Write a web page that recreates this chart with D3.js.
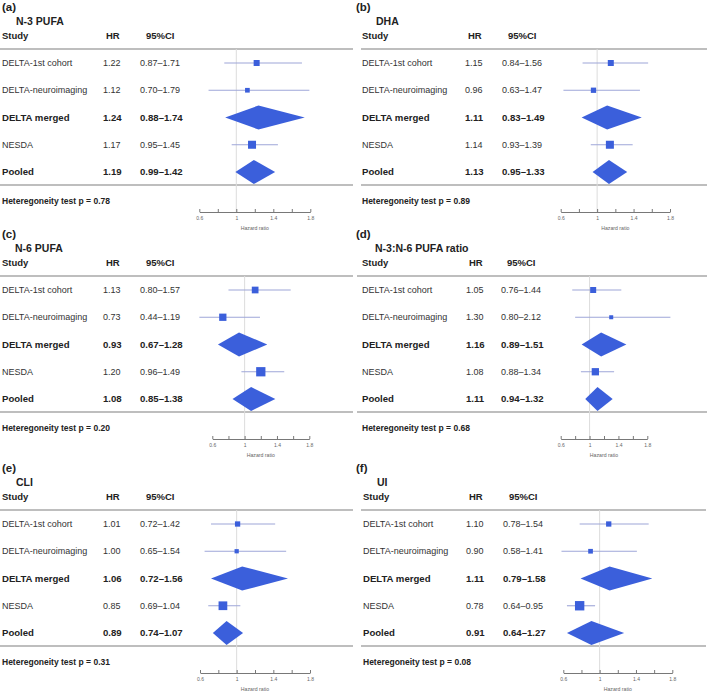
<!DOCTYPE html>
<html>
<head>
<meta charset="utf-8">
<script src="https://cdn.jsdelivr.net/npm/d3@7"></script>
<style>
  html, body { margin: 0; padding: 0; background: #fff; }
  svg { display: block; font-family: "Liberation Sans", Arial, sans-serif; }
</style>
</head>
<body>
<svg id="chart" width="709" height="691"></svg>
<script>
// ---------------- DATA ----------------
const panelIds = ["(a)", "(b)", "(c)", "(d)", "(e)", "(f)"];
const panelTitles = ["N-3 PUFA", "DHA", "N-6 PUFA", "N-3:N-6 PUFA ratio", "CLI", "UI"];
const studies = ["DELTA-1st cohort", "DELTA-neuroimaging", "DELTA merged", "NESDA", "Pooled"];
const summaryRow = [false, false, true, false, true];

const hrA = [1.22, 1.12, 1.24, 1.17, 1.19];
const loA = [0.87, 0.70, 0.88, 0.95, 0.99];
const hiA = [1.71, 1.79, 1.74, 1.45, 1.42];
const wA  = [36, 22, 0, 64, 0];

const hrB = [1.15, 0.96, 1.11, 1.14, 1.13];
const loB = [0.84, 0.63, 0.83, 0.93, 0.95];
const hiB = [1.56, 1.47, 1.49, 1.39, 1.33];
const wB  = [36, 28, 0, 64, 0];

const hrC = [1.13, 0.73, 0.93, 1.20, 1.08];
const loC = [0.80, 0.44, 0.67, 0.96, 0.85];
const hiC = [1.57, 1.19, 1.28, 1.49, 1.38];
const wC  = [45, 53, 0, 86, 0];

const hrD = [1.05, 1.30, 1.16, 1.08, 1.11];
const loD = [0.76, 0.80, 0.89, 0.88, 0.94];
const hiD = [1.44, 2.12, 1.51, 1.34, 1.32];
const wD  = [36, 16, 0, 53, 0];

const hrE = [1.01, 1.00, 1.06, 0.85, 0.89];
const loE = [0.72, 0.65, 0.72, 0.69, 0.74];
const hiE = [1.42, 1.54, 1.56, 1.04, 1.07];
const wE  = [28, 18, 0, 76, 0];

const hrF = [1.10, 0.90, 1.11, 0.78, 0.91];
const loF = [0.78, 0.58, 0.79, 0.64, 0.64];
const hiF = [1.54, 1.41, 1.58, 0.95, 1.27];
const wF  = [28, 22, 0, 88, 0];

const hetP = ["0.78", "0.89", "0.20", "0.68", "0.31", "0.08"];

const axisDomain = [0.6, 1.8];
const tickValues = [0.6, 0.8, 1.0, 1.2, 1.4, 1.6, 1.8];
const tickLabels = ["0.6", "", "1", "", "1.4", "", "1.8"];

// ---------------- LAYOUT (styles / positions) ----------------
const layouts = [
  { y0: 0,   lab: 2,   title: 16,  txt: 2,   hr: 103, ci: 140, ax: [199.3, 310.3], hl: [0, 353] },
  { y0: 0,   lab: 356, title: 376, txt: 362, hr: 465, ci: 502, ax: [560.7, 670.0], hl: [361, 707] },
  { y0: 227, lab: 2,   title: 15,  txt: 2,   hr: 103, ci: 140, ax: [212.3, 309.3], hl: [0, 353] },
  { y0: 227, lab: 356, title: 375, txt: 362, hr: 466, ci: 501, ax: [560.7, 647.3], hl: [357, 707] },
  { y0: 461, lab: 2,   title: 16,  txt: 2,   hr: 103, ci: 140, ax: [200.0, 310.0], hl: [0, 353] },
  { y0: 461, lab: 356, title: 377, txt: 363, hr: 466, ci: 503, ax: [563.3, 672.3], hl: [361, 706] }
];

const panelData = [
  { hr: hrA, lo: loA, hi: hiA, w: wA },
  { hr: hrB, lo: loB, hi: hiB, w: wB },
  { hr: hrC, lo: loC, hi: hiC, w: wC },
  { hr: hrD, lo: loD, hi: hiD, w: wD },
  { hr: hrE, lo: loE, hi: hiE, w: wE },
  { hr: hrF, lo: loF, hi: hiF, w: wF }
];

const BLUE = "#3b5fdb";
const CI_LINE = "#9ea6d8";
const TEXT = "#222";
const f2 = d3.format(".2f");

const rowY = d3.scalePoint().domain(d3.range(studies.length)).range([63, 172]);
const boxScale = d3.scaleSqrt().domain([0, 100]).range([0, 10]);

const svg = d3.select("#chart");

panelData.forEach((pd, p) => {
  const L = layouts[p];
  const g = svg.append("g").attr("transform", `translate(0,${L.y0})`);
  const x = d3.scaleLinear().domain(axisDomain).range(L.ax);

  // panel label & title
  g.append("text").attr("x", L.lab).attr("y", 7).attr("dy", "0.35em")
    .attr("font-size", 11.5).attr("font-weight", "bold").attr("fill", TEXT).text(panelIds[p]);
  g.append("text").attr("x", L.title).attr("y", 21).attr("dy", "0.35em")
    .attr("font-size", 10.5).attr("font-weight", "bold").attr("fill", TEXT).text(panelTitles[p]);

  // header
  const hdr = [["Study", L.txt], ["HR", L.hr + 3], ["95%CI", L.ci + 6]];
  hdr.forEach(([t, xx]) => {
    g.append("text").attr("x", xx).attr("y", 36).attr("dy", "0.35em")
      .attr("font-size", 9.5).attr("font-weight", "bold").attr("fill", TEXT).text(t);
  });

  // separators
  g.append("line").attr("x1", L.hl[0]).attr("x2", L.hl[1]).attr("y1", 49).attr("y2", 49)
    .attr("stroke", "#a8a8a8").attr("stroke-width", 1.3);
  g.append("line").attr("x1", L.hl[0]).attr("x2", L.hl[1]).attr("y1", 185).attr("y2", 185)
    .attr("stroke", "#a8a8a8").attr("stroke-width", 1.3);

  // reference line at HR = 1
  g.append("line").attr("x1", x(1)).attr("x2", x(1)).attr("y1", 49).attr("y2", 212)
    .attr("stroke", "#dcdcdc").attr("stroke-width", 1);

  // rows
  studies.forEach((s, i) => {
    const y = rowY(i);
    const bold = summaryRow[i];
    const fs = bold ? 9.6 : 9;
    const fw = bold ? "bold" : "normal";
    const col = bold ? TEXT : "#333";
    g.append("text").attr("x", L.txt).attr("y", y).attr("dy", "0.35em")
      .attr("font-size", fs).attr("font-weight", fw).attr("fill", col).text(s);
    g.append("text").attr("x", L.hr).attr("y", y).attr("dy", "0.35em")
      .attr("font-size", fs).attr("font-weight", fw).attr("fill", col).text(f2(pd.hr[i]));
    g.append("text").attr("x", L.ci).attr("y", y).attr("dy", "0.35em")
      .attr("font-size", fs).attr("font-weight", fw).attr("fill", col)
      .text(f2(pd.lo[i]) + "\u2013" + f2(pd.hi[i]));

    if (bold) {
      const h = 12;
      const pts = [[x(pd.lo[i]), y], [x(pd.hr[i]), y - h], [x(pd.hi[i]), y], [x(pd.hr[i]), y + h]];
      g.append("polygon").attr("points", pts.map(q => q.join(",")).join(" "))
        .attr("fill", BLUE);
    } else {
      g.append("line").attr("x1", x(pd.lo[i])).attr("x2", x(pd.hi[i]))
        .attr("y1", y).attr("y2", y).attr("stroke", CI_LINE).attr("stroke-width", 1.1);
      const sz = boxScale(pd.w[i]);
      g.append("rect").attr("x", x(pd.hr[i]) - sz / 2).attr("y", y - sz / 2)
        .attr("width", sz).attr("height", sz).attr("fill", BLUE);
    }
  });

  // heterogeneity
  g.append("text").attr("x", L.txt).attr("y", 201).attr("dy", "0.35em")
    .attr("font-size", 8.5).attr("font-weight", "bold").attr("fill", TEXT)
    .text("Heteregoneity test p = " + hetP[p]);

  // axis
  const axis = d3.axisBottom(x).tickValues(tickValues)
    .tickFormat((d, i) => tickLabels[i]).tickSizeInner(-3).tickSizeOuter(0).tickPadding(4);
  const ag = g.append("g").attr("transform", "translate(0,212)").call(axis);
  ag.select(".domain").attr("stroke", "#555").attr("stroke-width", 0.8);
  ag.selectAll(".tick line").attr("stroke", "#555").attr("stroke-width", 0.8);
  ag.selectAll(".tick text").attr("font-size", 5).attr("fill", "#666")
    .attr("font-family", "'Liberation Sans', Arial, sans-serif");
  g.append("text").attr("x", (L.ax[0] + L.ax[1]) / 2).attr("y", 228).attr("dy", "0.35em")
    .attr("text-anchor", "middle").attr("font-size", 5.2).attr("fill", "#666").text("Hazard ratio");
});
</script>
</body>
</html>
